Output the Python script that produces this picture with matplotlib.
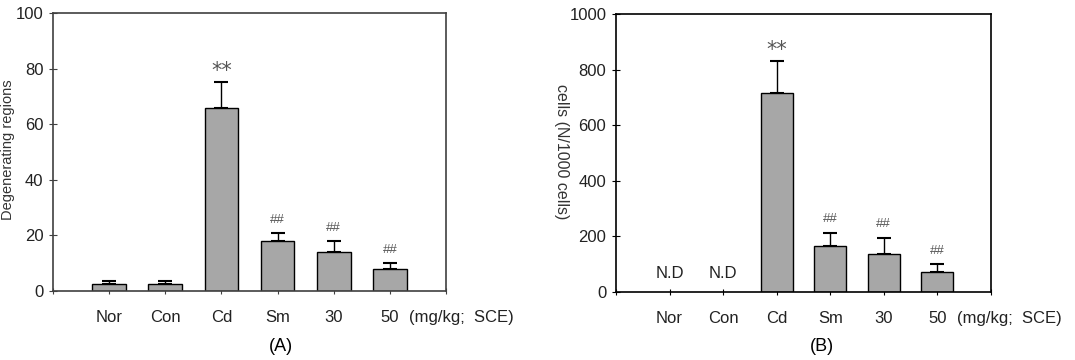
import matplotlib
matplotlib.use("Agg")
import matplotlib.pyplot as plt
import numpy as np

plt.rcParams['font.family'] = ['Liberation Sans', 'DejaVu Sans']

groups = ["Nor", "Con", "Cd", "Sm", "30", "50"]

# (A) apoptotic regions
a_mean = [2.4, 2.4, 65.7, 18.0, 14.1, 8.0]
a_err = [1.2, 1.2, 9.6, 2.8, 3.9, 2.0]
a_marks = ["", "", "**", "##", "##", "##"]

# (B) positive cells, N.D = not detected
b_mean = [np.nan, np.nan, 715, 167, 136, 72]
b_err = [0, 0, 116, 47, 60, 29]
b_marks = ["N.D", "N.D", "**", "##", "##", "##"]

a_yticks = [0, 20, 40, 60, 80, 100]
b_yticks = [0, 200, 400, 600, 800, 1000]

fig = plt.figure(figsize=(10.75, 3.6), dpi=100)


def make_panel(rect, means, errs, marks, yticks, spine_color, nd_y):
    ax = fig.add_axes(rect)
    x = np.arange(1, len(groups) + 1)
    means = np.array(means, dtype=float)
    errs = np.array(errs, dtype=float)
    ok = ~np.isnan(means)

    ax.bar(x[ok], means[ok], width=0.6, color="#a7a7a7", edgecolor="black",
           linewidth=1.0, zorder=2)
    ax.errorbar(x[ok], means[ok], yerr=[np.zeros(ok.sum()), errs[ok]],
                fmt="none", ecolor="black", elinewidth=1.0, capsize=5,
                capthick=1.5, zorder=1)

    for xi, m, e, lab in zip(x, means, errs, marks):
        if not lab:
            continue
        if np.isnan(m):
            ax.text(xi, nd_y, lab, ha="center", va="center", fontsize=12,
                    color="#222222")
        elif lab == "**":
            ax.annotate(lab, (xi, m + e), xytext=(0, 8), textcoords="offset points",
                        ha="center", va="center", fontsize=15, color="#555555",
                        family="DejaVu Sans")
        else:
            ax.annotate(lab, (xi, m + e), xytext=(0, 9.5), textcoords="offset points",
                        ha="center", va="center", fontsize=9.5, color="#555555")

    ax.set_xlim(0, 7)
    ax.set_ylim(yticks[0], yticks[-1])
    ax.set_yticks(yticks)
    ax.set_yticklabels([str(t) for t in yticks], fontsize=12, color="#222222")
    ax.set_xticks(range(0, 8))
    ax.set_xticklabels([""] + groups + [""], fontsize=12, color="#222222")
    ax.tick_params(axis="x", direction="inout", length=5, pad=11, color=spine_color)
    ax.tick_params(axis="y", direction="inout", length=6, pad=4, color=spine_color)
    for s in ax.spines.values():
        s.set_color(spine_color)
        s.set_linewidth(1.2)
    ax.annotate("(mg/kg;  SCE)", (6, 0), xycoords=("data", "axes fraction"),
                xytext=(14, -13.5), textcoords="offset points", ha="left",
                va="top", fontsize=12, color="#222222")
    return ax


ax_a = make_panel([0.0493, 0.1917, 0.3656, 0.772], a_mean, a_err, a_marks,
                  a_yticks, "#404040", 0)
ax_b = make_panel([0.573, 0.1889, 0.3488, 0.772], b_mean, b_err, b_marks,
                  b_yticks, "black", 68)

# y labels squeezed against the left edge of each panel
fig.text(0.0075, 0.585, "Degenerating regions", rotation=90, ha="center",
         va="center", fontsize=10.5, color="#333333")
fig.text(0.5225, 0.58, "cells (N/1000 cells)", rotation=270, ha="center",
         va="center", fontsize=11.5, color="#333333")

fig.text(0.261, 0.037, "(A)", ha="center", va="center", fontsize=13)
fig.text(0.765, 0.037, "(B)", ha="center", va="center", fontsize=13)

fig.savefig("out.png", dpi=100)
